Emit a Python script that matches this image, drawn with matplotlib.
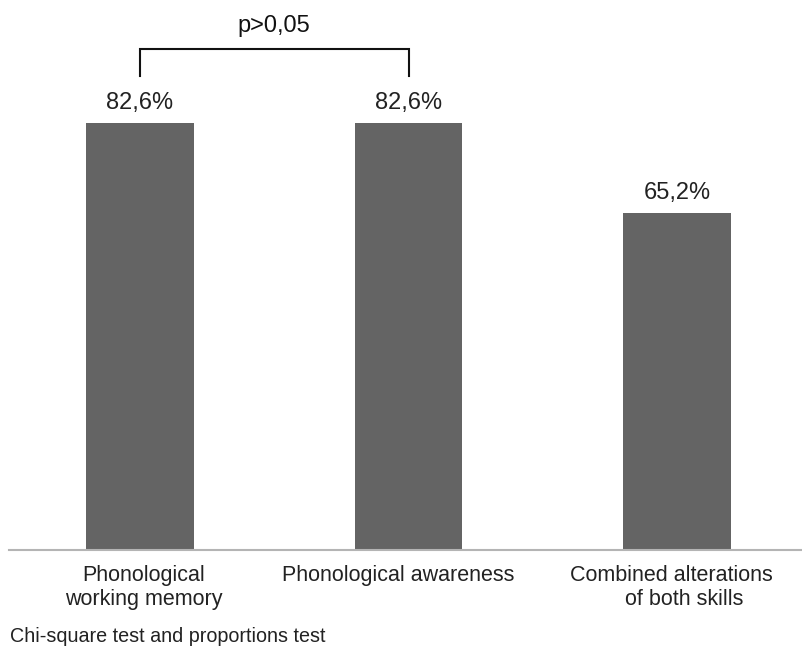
import matplotlib.pyplot as plt

plt.rcParams['font.family'] = ['Liberation Sans', 'DejaVu Sans']

categories = ["Phonological\nworking memory", "Phonological awareness",
              "Combined alterations\n    of both skills"]
values = [82.6, 82.6, 65.2]
value_labels = ["82,6%", "82,6%", "65,2%"]
p_label = "p>0,05"
note = "Chi-square test and proportions test"

fig = plt.figure(figsize=(8.03, 6.49), dpi=100)
ax = fig.add_axes([9 / 803, 99 / 649, 794 / 803, 550 / 649])

x = list(range(len(values)))
ax.bar(x, values, width=0.4, color="#646464")

for xi, v, lab in zip(x, values, value_labels):
    ax.text(xi, v + 1.8, lab, ha="center", va="bottom", fontsize=17, color="#222222")

# bracket between the first two bars
top, leg = 96.9, 91.7
ax.plot([0.0, 0.0, 1.0, 1.0], [leg, top, top, leg], color="#111111", lw=1.5,
        solid_joinstyle="miter", clip_on=False)
ax.text(0.5, top + 2.4, p_label, ha="center", va="bottom", fontsize=17, color="#111111")

ax.set_xlim(-0.488, 2.469)
ax.set_ylim(0, 106.4)
# category labels sit slightly off the bar centres
ax.set_xticks([0.015, 0.961, 1.98])
ax.set_xticklabels(categories, fontsize=15.5, color="#222222", linespacing=1.2)
ax.tick_params(axis="x", length=0, pad=11)
ax.set_yticks([])
for side in ["top", "left", "right"]:
    ax.spines[side].set_visible(False)
ax.spines["bottom"].set_color("#b4b4b4")
ax.spines["bottom"].set_linewidth(1.5)

fig.text(10 / 803, 1 - 636 / 649, note, ha="left", va="center", fontsize=14.2, color="#222222")

fig.savefig("out.png", dpi=100)
